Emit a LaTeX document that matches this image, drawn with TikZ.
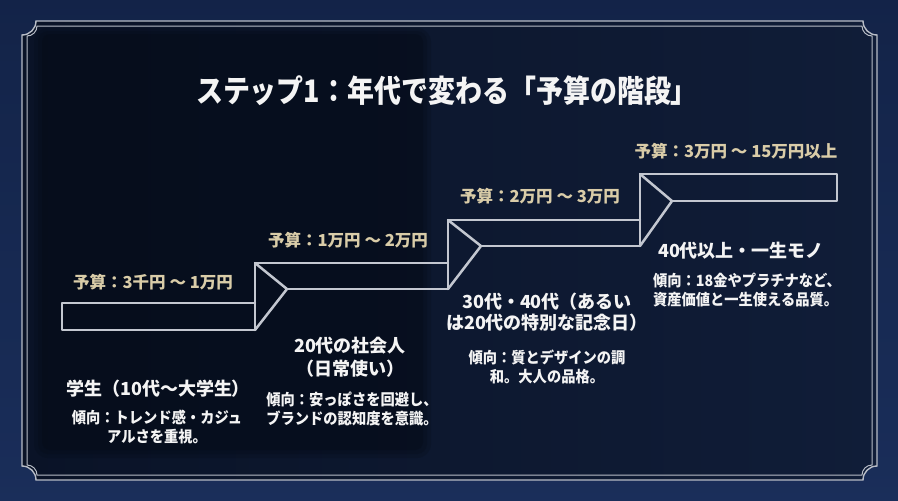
\documentclass[tikz,border=0pt]{standalone}
\usepackage{fontspec}
\newfontfamily\jpfont{Noto Sans CJK JP}
\newfontfamily\jpnarrow{Noto Sans CJK JP}[FakeStretch=0.92]
\newfontfamily\jptitle{Noto Sans CJK JP}[FakeStretch=0.87]
\newfontfamily\jppalt{Noto Sans CJK JP}[RawFeature=+palt]
\definecolor{velvet}{HTML}{1A2E5A}
\definecolor{velvetdark}{HTML}{0F1D3D}
\definecolor{panelL}{HTML}{0A1327}
\definecolor{panelR}{HTML}{101D38}
\definecolor{shadowc}{HTML}{040914}
\definecolor{silver}{HTML}{C3C7D0}
\definecolor{framesilver}{HTML}{B8BDC7}
\definecolor{gold}{HTML}{D9CCA8}
\definecolor{txt}{HTML}{F4F4F4}
\tikzset{
  budget/.style={text=gold, font=\jpfont\bfseries\fontsize{16.5}{18}\selectfont, inner sep=0pt},
  head/.style={text=txt, align=center, font=\jpfont\bfseries\fontsize{18}{22}\selectfont, inner sep=0pt},
  desc/.style={text=txt, align=center, font=\jpnarrow\bfseries\fontsize{15.5}{18.5}\selectfont, inner sep=0pt},
  stair/.style={draw=silver, line width=2.5pt, line join=round, line cap=round},
  frameline/.style={draw=framesilver, line width=1.4pt},
}
\begin{document}
\begin{tikzpicture}[x=1pt,y=-1pt]
\useasboundingbox (0,0) rectangle (898,501);
% velvet background
\shade[top color=velvetdark, bottom color=velvet] (0,0) rectangle (898,501);
\fill[velvet, opacity=0.4] (0,0) rectangle (898,501);
% inner panel
\shade[left color=panelL, right color=panelR]
  (32,21) -- (863,21) arc[start angle=180,end angle=90,radius=14]
  -- (877,466) arc[start angle=270,end angle=180,radius=14]
  -- (36,480) arc[start angle=0,end angle=-90,radius=14]
  -- (22,35) arc[start angle=90,end angle=0,radius=14] -- cycle;
% dark left panel with soft edge
\fill[shadowc, opacity=0.2, rounded corners=14pt] (34,28) rectangle (431,458);
\fill[shadowc, opacity=0.22, rounded corners=10pt] (38,31) rectangle (427,454);
\fill[shadowc, opacity=0.28, rounded corners=8pt] (42,34) rectangle (423,450);
% frame lines
\draw[frameline]
  (36,21) -- (863,21) arc[start angle=180,end angle=90,radius=14]
  -- (877,466) arc[start angle=270,end angle=180,radius=14]
  -- (36,480) arc[start angle=0,end angle=-90,radius=14]
  -- (22,35) arc[start angle=90,end angle=0,radius=14] -- cycle;
\draw[frameline, line width=1pt]
  (37,26) -- (862,26) arc[start angle=180,end angle=90,radius=10]
  -- (872,465) arc[start angle=270,end angle=180,radius=10]
  -- (37,475) arc[start angle=0,end angle=-90,radius=10]
  -- (27,36) arc[start angle=90,end angle=0,radius=10] -- cycle;
% title
\node[text=txt, inner sep=0pt, font=\jptitle\bfseries\fontsize{31}{34}\selectfont] (title) at (447,91) {ステップ1：年代で変わる「予算の階段」};
% staircase
\coordinate (s1tl) at (62,303);
\coordinate (s1bl) at (62,330);
\coordinate (v1t) at (255,263);
\coordinate (v1m) at (255,303);
\coordinate (v1b) at (255,330);
\coordinate (t1) at (287,289);
\coordinate (v2t) at (448,220);
\coordinate (v2m) at (448,263);
\coordinate (v2b) at (448,289);
\coordinate (t2) at (481,246);
\coordinate (v3t) at (640,174);
\coordinate (v3m) at (640,220);
\coordinate (v3b) at (640,246);
\coordinate (t3) at (672,201);
\coordinate (e4t) at (837,174);
\coordinate (e4b) at (837,201);
\draw[stair] (v1m) -- (s1tl) -- (s1bl) -- (v1b);
\draw[stair] (v1t) -- (v1b);
\draw[stair] (v1t) -- (t1) -- (v1b);
\draw[stair] (v1t) -- (v2m);
\draw[stair] (t1) -- (v2b);
\draw[stair] (v2t) -- (v2b);
\draw[stair] (v2t) -- (t2) -- (v2b);
\draw[stair] (v2t) -- (v3m);
\draw[stair] (t2) -- (v3b);
\draw[stair] (v3t) -- (v3b);
\draw[stair] (v3t) -- (t3) -- (v3b);
\draw[stair] (v3t) -- (e4t) -- (e4b) -- (t3);
% budget labels
\node[budget] (b1) at (153,282) {予算：3千円 ～ 1万円};
\node[budget] (b2) at (348,240) {予算：1万円 ～ 2万円};
\node[budget] (b3) at (540,196) {予算：2万円 ～ 3万円};
\node[budget] (b4) at (736,151) {予算：3万円 ～ 15万円以上};
% step texts
\node[head] (h1) at (154,389) {学生（10代{\jppalt ～大学生）}};
\node[desc] (d1) at (157,427) {傾向：トレンド感・カジュ\\アルさを重視。};
\node[head, font=\jpfont\bfseries\fontsize{18}{23}\selectfont] (h2) at (350,357) {20代の社会人\\（日常使い）};
\node[desc] (d2) at (352,409) {傾向：安っぽさを回避し、\\ブランドの認知度を意識。};
\node[head, font=\jpfont\bfseries\fontsize{18}{21}\selectfont] (h3) at (547,312) {30代・40代（あるい\\は20代の特別な記念日）};
\node[desc, font=\jpnarrow\bfseries\fontsize{15.5}{19.5}\selectfont] (d3) at (547,367) {傾向：質とデザインの調\\和。大人の品格。};
\node[head] (h4) at (741,251) {40代以上・一生モノ};
\node[desc, align=left] (d4) at (747,290) {傾向：18金やプラチナなど、\\資産価値と一生使える品質。};
\end{tikzpicture}
\end{document}
